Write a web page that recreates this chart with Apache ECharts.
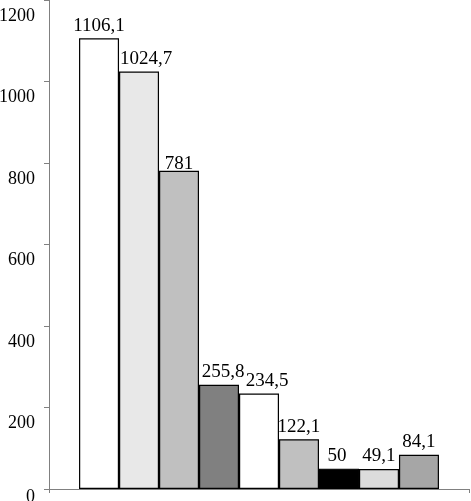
<!DOCTYPE html>
<html>
<head>
<meta charset="utf-8">
<script src="https://cdn.jsdelivr.net/npm/echarts@6/dist/echarts.min.js"></script>
<style>
html,body{margin:0;padding:0;background:#fff;}
#chart{width:471px;height:501px;}
</style>
</head>
<body>
<div id="chart"></div>
<script>
// bar values, left to right
var values = [1106.1, 1024.7, 781, 255.8, 234.5, 122.1, 50, 49.1, 84.1];
var fills = ['#ffffff', '#e8e8e8', '#c0c0c0', '#808080', '#ffffff', '#c0c0c0', '#000000', '#dcdcdc', '#a6a6a6'];
var categories = [''];
var yTicks = [0, 200, 400, 600, 800, 1000, 1200];
// small nudges of the value labels, as in the original
var labelShift = [[0, 0], [7, 0], [0, 6], [4, 0], [8, 0], [0, 0], [-2, 0], [0, 0], [0, 0]];

var font = '"Liberation Serif", "Times New Roman", serif';

var series = [];
for (var i = 0; i < values.length; i++) {
    series.push({
        type: 'bar',
        data: [values[i]],
        barGap: 0,
        barCategoryGap: '14.3%',
        itemStyle: { color: fills[i], borderColor: '#000', borderWidth: 1.2 },
        label: {
            show: true,
            position: 'top',
            distance: 3,
            offset: labelShift[i],
            color: '#000',
            fontFamily: font,
            fontSize: 19,
            formatter: function (p) { return String(p.value).replace('.', ','); }
        }
    });
}

var chart = echarts.init(document.getElementById('chart'));
chart.setOption({
    animation: false,
    backgroundColor: '#fff',
    grid: { left: 49, right: 2, top: 0, bottom: 12, containLabel: false, outerBoundsMode: 'none' },
    xAxis: {
        type: 'category',
        data: categories,
        axisLine: { lineStyle: { color: '#808080', width: 1 } },
        axisTick: { show: true, length: 4, lineStyle: { color: '#808080' } },
        axisLabel: { show: false }
    },
    yAxis: {
        type: 'value',
        min: yTicks[0],
        max: yTicks[yTicks.length - 1],
        interval: 200,
        axisLine: { show: true, lineStyle: { color: '#808080', width: 1 } },
        axisTick: { show: true, length: 5, lineStyle: { color: '#808080' } },
        splitLine: { show: false },
        axisLabel: {
            margin: 14,
            color: '#000',
            fontFamily: font,
            fontSize: 18,
            formatter: function (v) { return v === 0 ? '{z|0}' : '{n|' + v + '}'; },
            rich: {
                n: { fontFamily: font, fontSize: 18, color: '#000', padding: [32, 0, 0, 0] },
                z: { fontFamily: font, fontSize: 18, color: '#000', padding: [16, 0, 0, 0] }
            }
        }
    },
    series: series
});
</script>
</body>
</html>
